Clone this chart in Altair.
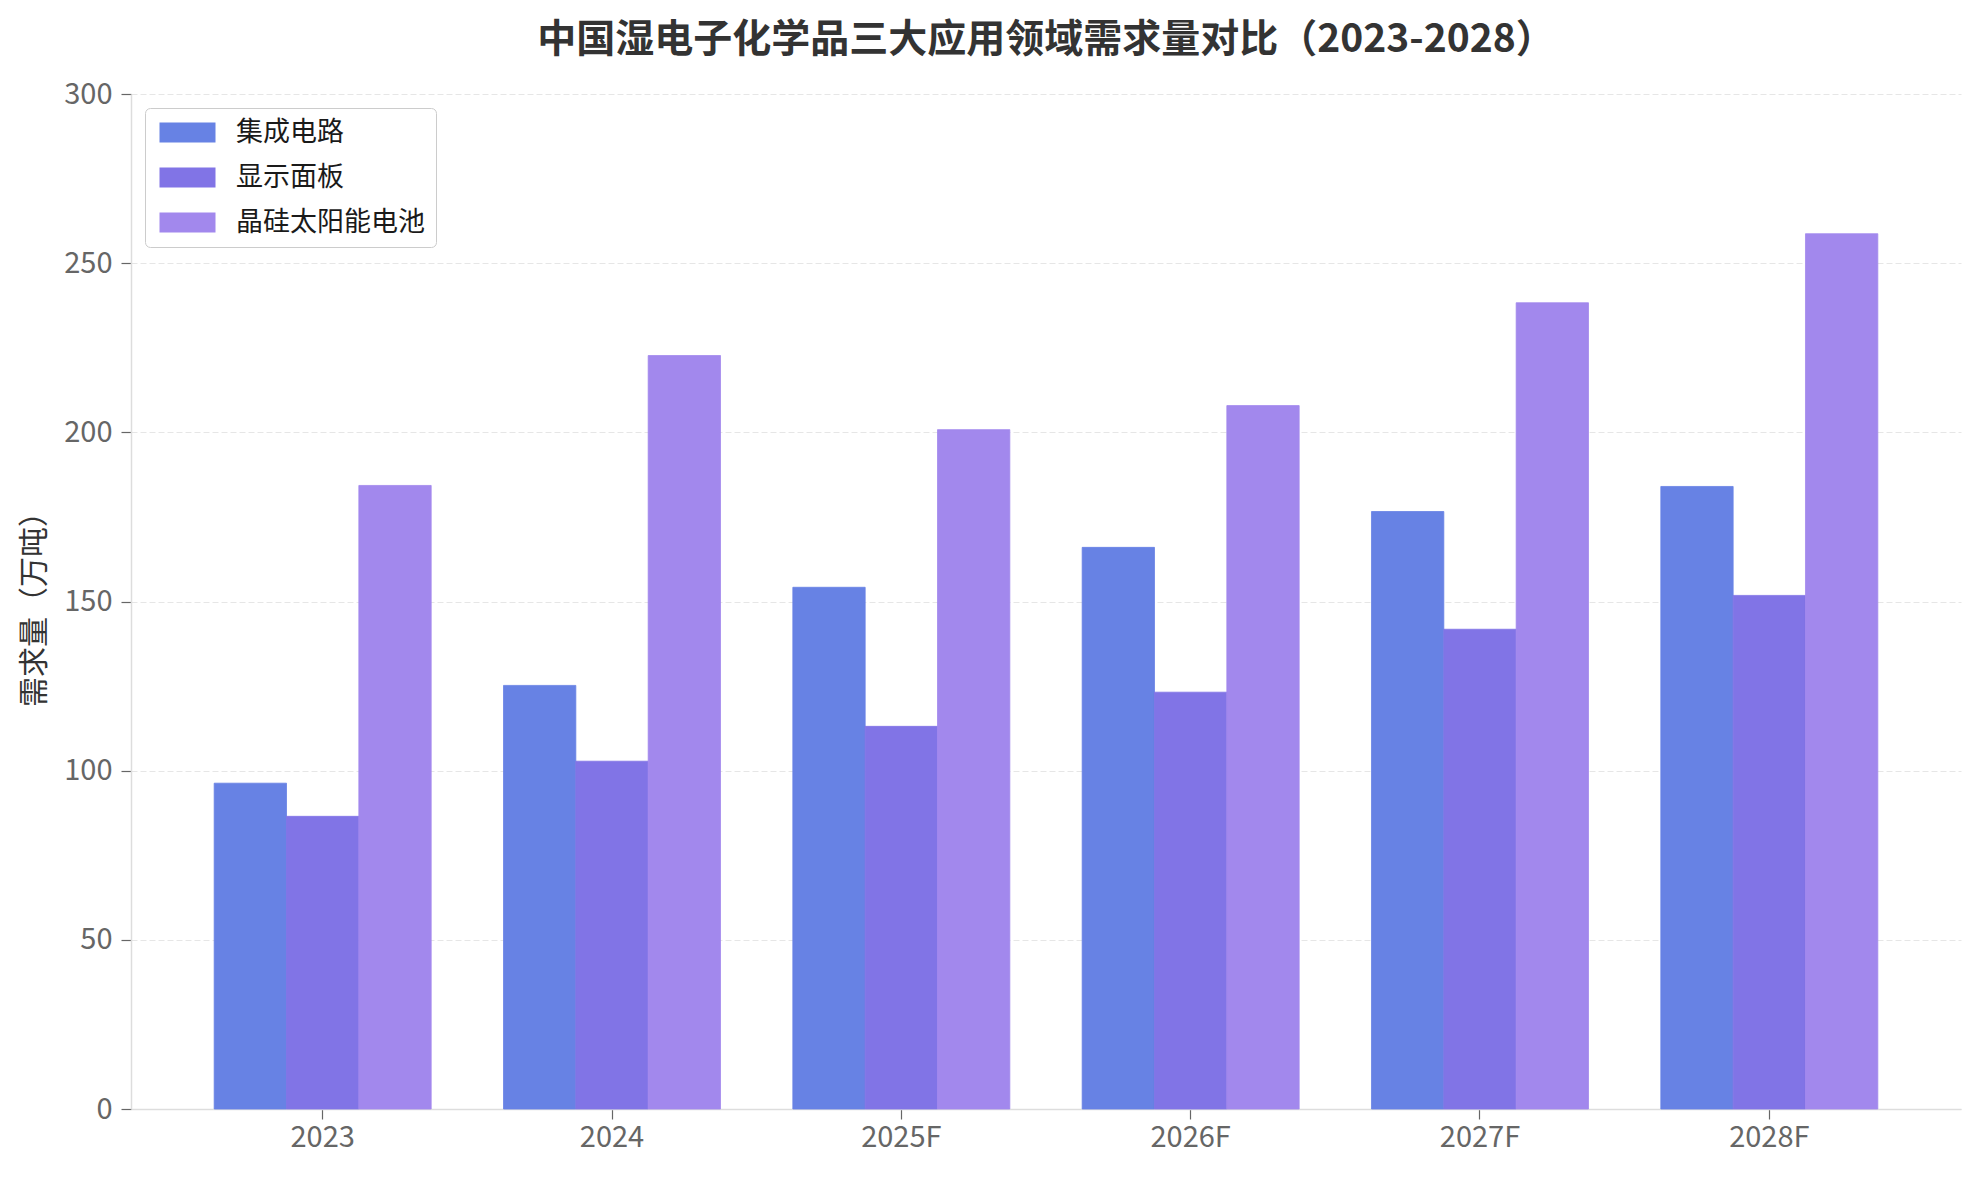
import altair as alt
import pandas as pd

# ---- data ----
years = ["2023", "2024", "2025F", "2026F", "2027F", "2028F"]
series_names = ["集成电路", "显示面板", "晶硅太阳能电池"]
ic_values = [96.3, 125.2, 154.2, 166.0, 176.6, 184.0]
panel_values = [86.5, 102.8, 113.1, 123.2, 141.8, 151.8]
solar_values = [184.3, 222.7, 200.8, 207.9, 238.3, 258.7]
colors = ["#6782E4", "#8174E6", "#A288ED"]
y_ticks = [0, 50, 100, 150, 200, 250, 300]

rows = []
for name, vals in zip(series_names, [ic_values, panel_values, solar_values]):
    for y, v in zip(years, vals):
        rows.append({"year": y, "series": name, "value": v})
df = pd.DataFrame(rows)

FONT = "Noto Sans CJK SC"
legend_shape = "M-1,-1H4.6V1H-1Z"

chart = alt.Chart(df).mark_bar(strokeWidth=0.8).encode(
    x=alt.X(
        "year:N",
        sort=years,
        title=None,
        scale=alt.Scale(paddingInner=0.25, paddingOuter=0.2875),
        axis=alt.Axis(
            labelAngle=0,
            labelFont=FONT,
            labelFontSize=29,
            labelColor="#666666",
            labelPadding=4,
            tickSize=10,
            tickColor="#666666",
            tickWidth=1.2,
            domainColor="#dddddd",
            domainWidth=1.5,
            grid=False,
        ),
    ),
    xOffset=alt.XOffset(
        "series:N",
        sort=series_names,
        scale=alt.Scale(paddingInner=0, paddingOuter=0),
    ),
    y=alt.Y(
        "value:Q",
        scale=alt.Scale(domain=[0, 300], nice=False),
        axis=alt.Axis(
            values=y_ticks,
            title="需求量（万吨）",
            titleFont=FONT,
            titleFontSize=30,
            titleFontWeight="normal",
            titleColor="#333333",
            titleX=-82,
            labelFont=FONT,
            labelFontSize=29,
            labelColor="#666666",
            labelPadding=9,
            tickSize=10,
            tickColor="#666666",
            tickWidth=1.2,
            domainColor="#dddddd",
            domainWidth=1.5,
            grid=True,
            gridColor="#e6e6e6",
            gridDash=[6, 3],
            gridWidth=1,
        ),
    ),
    stroke=alt.Stroke(
        "series:N",
        sort=series_names,
        scale=alt.Scale(domain=series_names, range=colors),
        legend=None,
    ),
    color=alt.Color(
        "series:N",
        sort=series_names,
        scale=alt.Scale(domain=series_names, range=colors),
        legend=alt.Legend(
            title=None,
            orient="none",
            legendX=14,
            legendY=14,
            symbolType=legend_shape,
            symbolSize=400,
            symbolStrokeWidth=0,
            symbolOpacity=1,
            labelOffset=53,
            labelLimit=500,
            labelFont=FONT,
            labelFontSize=27,
            labelColor="#1a1a1a",
            rowPadding=17,
            padding=11,
            fillColor="#ffffff",
            strokeColor="#cccccc",
            cornerRadius=5,
        ),
    ),
).properties(
    width=1830,
    height=1015,
    background="white",
    title=alt.TitleParams(
        text="中国湿电子化学品三大应用领域需求量对比（2023-2028）",
        font=FONT,
        fontSize=39,
        fontWeight="bold",
        color="#333333",
        anchor="middle",
        offset=20,
    ),
    autosize=alt.AutoSizeParams(type="none"),
    padding={"left": 123, "top": 86, "right": 10, "bottom": 55},
).configure_view(
    stroke="transparent",
    strokeWidth=0,
)

chart.save("out.html", embed_options={"renderer": "svg", "actions": False})
